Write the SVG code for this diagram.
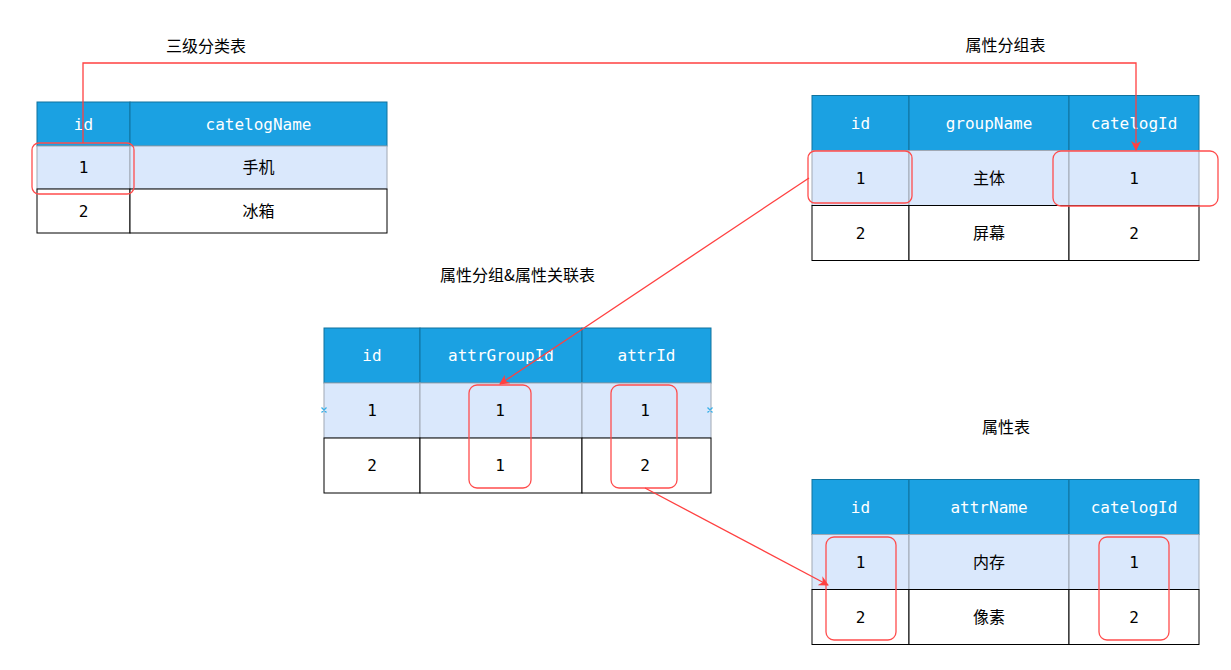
<svg xmlns="http://www.w3.org/2000/svg" width="1231" height="670" viewBox="0 0 1231 670">
<style>
.h{fill:#1ba1e2;stroke:#10739e;stroke-width:1}
.r1{fill:#dae8fc;stroke:#a0a8b4;stroke-width:1}
.r2{fill:#fff;stroke:#000;stroke-width:1}
.ht{font-family:"DejaVu Sans Mono","Liberation Mono",monospace;font-size:16px;fill:#fff;text-anchor:middle;dominant-baseline:central}
.t{font-family:"DejaVu Sans Mono","Liberation Mono",monospace;font-size:16px;fill:#000;text-anchor:middle;dominant-baseline:central}
.cn{font-family:"Noto Sans CJK SC",sans-serif;font-size:16px;fill:#000;text-anchor:middle;dominant-baseline:central}
.title{font-family:"Noto Sans CJK SC",sans-serif;font-size:16px;fill:#000;text-anchor:middle;dominant-baseline:central}
.hl{fill:none;stroke:#ff4d4d;stroke-width:1.3}
.c{fill:none;stroke:#ff4040;stroke-width:1.3}
.x{stroke:#3ab0e8;stroke-width:1.3}
</style>
<defs>
<marker id="a" viewBox="0 0 10 10" refX="9" refY="5" markerWidth="10" markerHeight="10" markerUnits="userSpaceOnUse" orient="auto">
<path d="M0,0 L10,5 L0,10 L3,5 Z" fill="#ff4040"/>
</marker>
</defs>

<g id="t1">
<text class="title" x="206" y="45">三级分类表</text>
<rect class="h" x="37" y="102" width="93" height="44"/>
<rect class="h" x="130" y="102" width="257" height="44"/>
<rect class="r1" x="37" y="146" width="93" height="43"/>
<rect class="r1" x="130" y="146" width="257" height="43"/>
<rect class="r2" x="37" y="189" width="93" height="44"/>
<rect class="r2" x="130" y="189" width="257" height="44"/>
<text class="ht" x="83.5" y="124">id</text>
<text class="ht" x="258.5" y="124">catelogName</text>
<text class="t" x="83.5" y="167.5">1</text>
<text class="cn" x="258.5" y="166">手机</text>
<text class="t" x="83.5" y="211">2</text>
<text class="cn" x="258.5" y="209.5">冰箱</text>
<rect class="hl" x="32" y="143" width="102" height="51" rx="7"/>
</g>

<g id="t2">
<text class="title" x="1005.5" y="44">属性分组表</text>
<rect class="h" x="812" y="95.5" width="97" height="55"/>
<rect class="h" x="909" y="95.5" width="160" height="55"/>
<rect class="h" x="1069" y="95.5" width="130" height="55"/>
<rect class="r1" x="812" y="150.5" width="97" height="55"/>
<rect class="r1" x="909" y="150.5" width="160" height="55"/>
<rect class="r1" x="1069" y="150.5" width="130" height="55"/>
<rect class="r2" x="812" y="205.5" width="97" height="55"/>
<rect class="r2" x="909" y="205.5" width="160" height="55"/>
<rect class="r2" x="1069" y="205.5" width="130" height="55"/>
<text class="ht" x="860.5" y="123">id</text>
<text class="ht" x="989" y="123">groupName</text>
<text class="ht" x="1134" y="123">catelogId</text>
<text class="t" x="860.5" y="178">1</text>
<text class="cn" x="989" y="176.5">主体</text>
<text class="t" x="1134" y="178">1</text>
<text class="t" x="860.5" y="233">2</text>
<text class="cn" x="989" y="231.5">屏幕</text>
<text class="t" x="1134" y="233">2</text>
<rect class="hl" x="808" y="151" width="104" height="52" rx="7"/>
<rect class="hl" x="1053" y="151" width="165" height="55" rx="8"/>
</g>

<g id="t3">
<text class="title" x="517.5" y="274">属性分组&amp;属性关联表</text>
<rect class="h" x="324" y="328" width="96" height="55"/>
<rect class="h" x="420" y="328" width="162" height="55"/>
<rect class="h" x="582" y="328" width="129" height="55"/>
<rect class="r1" x="324" y="383" width="96" height="55"/>
<rect class="r1" x="420" y="383" width="162" height="55"/>
<rect class="r1" x="582" y="383" width="129" height="55"/>
<rect class="r2" x="324" y="438" width="96" height="55"/>
<rect class="r2" x="420" y="438" width="162" height="55"/>
<rect class="r2" x="582" y="438" width="129" height="55"/>
<text class="ht" x="372" y="355.5">id</text>
<text class="ht" x="501" y="355.5">attrGroupId</text>
<text class="ht" x="646.5" y="355.5">attrId</text>
<text class="t" x="372" y="410.5">1</text>
<text class="t" x="500" y="410.5">1</text>
<text class="t" x="645" y="410.5">1</text>
<text class="t" x="372" y="465.5">2</text>
<text class="t" x="500" y="465.5">1</text>
<text class="t" x="645" y="465.5">2</text>
<rect class="hl" x="469" y="385" width="62" height="103" rx="8"/>
<rect class="hl" x="611" y="385" width="66" height="103" rx="8"/>
<path class="x" d="M321.5,407.5 l5,5 M326.5,407.5 l-5,5 M707.5,407.5 l5,5 M712.5,407.5 l-5,5"/>
</g>

<g id="t4">
<text class="title" x="1006" y="426">属性表</text>
<rect class="h" x="812" y="479.5" width="97" height="55"/>
<rect class="h" x="909" y="479.5" width="160" height="55"/>
<rect class="h" x="1069" y="479.5" width="130" height="55"/>
<rect class="r1" x="812" y="534.5" width="97" height="55"/>
<rect class="r1" x="909" y="534.5" width="160" height="55"/>
<rect class="r1" x="1069" y="534.5" width="130" height="55"/>
<rect class="r2" x="812" y="589.5" width="97" height="55"/>
<rect class="r2" x="909" y="589.5" width="160" height="55"/>
<rect class="r2" x="1069" y="589.5" width="130" height="55"/>
<text class="ht" x="860.5" y="507">id</text>
<text class="ht" x="989" y="507">attrName</text>
<text class="ht" x="1134" y="507">catelogId</text>
<text class="t" x="860.5" y="562">1</text>
<text class="cn" x="989" y="560.5">内存</text>
<text class="t" x="1134" y="562">1</text>
<text class="t" x="860.5" y="617">2</text>
<text class="cn" x="989" y="615.5">像素</text>
<text class="t" x="1134" y="617">2</text>
<rect class="hl" x="826" y="537" width="70" height="103" rx="8"/>
<rect class="hl" x="1099" y="537" width="70" height="103" rx="8"/>
</g>

<g id="connectors">
<path class="c" d="M83,143 V63 H1136 V150" marker-end="url(#a)"/>
<path class="c" d="M809,178 L500,384" marker-end="url(#a)"/>
<path class="c" d="M645,488 L828,585" marker-end="url(#a)"/>
</g>
</svg>
